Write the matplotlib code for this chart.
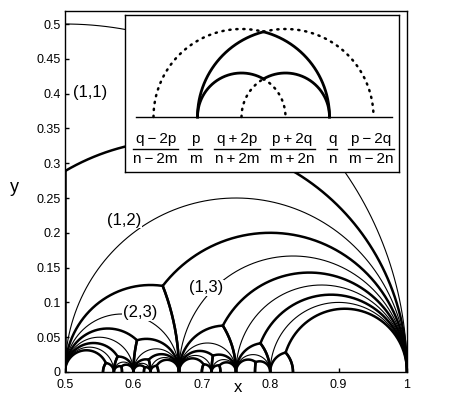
import numpy as np
import matplotlib
matplotlib.use("Agg")
import matplotlib.pyplot as plt

plt.rcParams['font.family'] = ['Liberation Sans', 'DejaVu Sans']

# Farey fractions (numerator, denominator) on [1/2, 1], one list per refinement level
level0 = [(1, 2), (1, 1)]
level1 = [(1, 2), (2, 3), (1, 1)]
level2 = [(1, 2), (3, 5), (2, 3), (3, 4), (1, 1)]
level3 = [(1, 2), (4, 7), (3, 5), (5, 8), (2, 3), (5, 7), (3, 4), (4, 5), (1, 1)]
level4 = [(1, 2), (5, 9), (4, 7), (7, 12), (3, 5), (8, 13), (5, 8), (7, 11), (2, 3),
          (7, 10), (5, 7), (8, 11), (3, 4), (7, 9), (4, 5), (5, 6), (1, 1)]
outer_pair = [(0, 1), (1, 1)]

region_labels = ["(1,1)", "(1,2)", "(2,3)", "(1,3)"]
label_x = [0.537, 0.586, 0.610, 0.706]
label_y = [0.401, 0.218, 0.085, 0.121]

# inset: schematic with feet of the arcs
inset_feet = [-2.5, -1.5, -0.5, 0.5, 1.5, 2.5]
inset_numer = ["q\u2009\u2212\u20092p", "p", "q\u2009+\u20092p", "p\u2009+\u20092q", "q", "p\u2009\u2212\u20092q"]
inset_denom = ["n\u2009\u2212\u20092m", "m", "n\u2009+\u20092m", "m\u2009+\u20092n", "n", "m\u2009\u2212\u20092n"]
inset_label_x = [-2.45, -1.56, -0.6, 0.66, 1.56, 2.44]

THICK = 1.8
THIN = 0.8


def frac(p, m):
    return np.inf if m == 0 else p / m


def circ_y(a, b, x):
    c = (a + b) / 2
    r = abs(b - a) / 2
    return np.sqrt(max(r * r - (x - c) ** 2, 0.0))


def arc(ax, a, b, x0, x1, **kw):
    c = (a + b) / 2
    r = abs(b - a) / 2
    t0 = np.arccos(np.clip((x0 - c) / r, -1, 1))
    t1 = np.arccos(np.clip((x1 - c) / r, -1, 1))
    t = np.linspace(t0, t1, 300)
    ax.plot(c + r * np.cos(t), r * np.sin(t), **kw)


def cusp_x(a1, b1, a2, b2):
    c1, r1 = (a1 + b1) / 2, abs(b1 - a1) / 2
    c2, r2 = (a2 + b2) / 2, abs(b2 - a2) / 2
    return (r1 ** 2 - r2 ** 2 + c2 ** 2 - c1 ** 2) / (2 * (c2 - c1))


def draw_region(ax, p, m, q, n):
    left, right = p / m, q / n
    a_start = frac(q - 2 * p, n - 2 * m)
    b_end = frac(p - 2 * q, m - 2 * n)
    if np.isinf(b_end):
        xc = left
        ax.plot([xc, xc], [0, circ_y(a_start, right, xc)], color='k', lw=THICK)
        arc(ax, a_start, right, xc, right, color='k', lw=THICK)
    elif np.isinf(a_start):
        xc = right
        arc(ax, left, b_end, left, xc, color='k', lw=THICK)
        ax.plot([xc, xc], [0, circ_y(left, b_end, xc)], color='k', lw=THICK)
    else:
        xc = cusp_x(a_start, right, left, b_end)
        arc(ax, left, b_end, left, xc, color='k', lw=THICK)
        arc(ax, a_start, right, xc, right, color='k', lw=THICK)


fig = plt.figure(figsize=(4.71, 3.98), dpi=100)
ax = fig.add_axes([65 / 471, 26 / 398, 342 / 471, 361 / 398])

levels = [level0, level1, level2, level3, level4]
# thin geodesics between Farey neighbours
(p0, m0), (q0, n0) = outer_pair
arc(ax, p0 / m0, q0 / n0, p0 / m0, q0 / n0, color='k', lw=THIN)
for lev in levels[:-1]:
    for (p, m), (q, n) in zip(lev[:-1], lev[1:]):
        arc(ax, p / m, q / n, p / m, q / n, color='k', lw=THIN)
# thick region boundaries
for lev in levels:
    for (p, m), (q, n) in zip(lev[:-1], lev[1:]):
        draw_region(ax, p, m, q, n)

for s, x, y in zip(region_labels, label_x, label_y):
    ax.text(x, y, s, fontsize=12, ha='center', va='center',
            bbox=dict(facecolor='white', edgecolor='none', pad=0.5), zorder=5)

ax.set_xlim(0.5, 1)
ax.set_ylim(0, 0.5187)
xt = [0.5, 0.6, 0.7, 0.8, 0.9, 1.0]
yt = [0, 0.05, 0.1, 0.15, 0.2, 0.25, 0.3, 0.35, 0.4, 0.45, 0.5]
ax.set_xticks(xt)
ax.set_xticklabels(['%g' % v for v in xt])
ax.set_yticks(yt)
ax.set_yticklabels(['%g' % v for v in yt])
ax.tick_params(direction='in', length=3, width=1, labelsize=9)
ax.tick_params(axis='x', pad=5)
ax.tick_params(axis='y', pad=3)
for sp in ax.spines.values():
    sp.set_linewidth(1.0)
fig.text(238 / 471, 1 - 388 / 398, "x", fontsize=12, ha='center', va='center')
fig.text(14 / 471, 1 - 187 / 398, "y", fontsize=13, ha='center', va='center')

# inset schematic
ins = fig.add_axes([125 / 471, (398 - 172) / 398, 274 / 471, 157 / 398], zorder=10)
ins.set_xlim((125 - 263.5) / 44, (399 - 263.5) / 44)
ins.set_ylim(-(172 - 117) / 44, (117 - 15) / 44)
ins.set_xticks([])
ins.set_yticks([])
for sp in ins.spines.values():
    sp.set_linewidth(1.0)

f = inset_feet
dot = dict(color='k', lw=1.8, linestyle=(0, (0.5, 2.3)), dash_capstyle='round')
sol = dict(color='k', lw=2.0)
# big arcs meeting at the top cusp
arc(ins, f[0], f[4], f[0], 0.0, **dot)
arc(ins, f[0], f[4], 0.0, f[4], **sol)
arc(ins, f[1], f[5], f[1], 0.0, **sol)
arc(ins, f[1], f[5], 0.0, f[5], **dot)
# small arcs meeting at the lower cusp
arc(ins, f[1], f[3], f[1], 0.0, **sol)
arc(ins, f[1], f[3], 0.0, f[3], **dot)
arc(ins, f[2], f[4], f[2], 0.0, **dot)
arc(ins, f[2], f[4], 0.0, f[4], **sol)
ins.plot([-2.9, 2.92], [0, 0], color='k', lw=1.0)

num_y, bar_y, den_y = -0.59, -0.72, -1.05
texts = []
for x, nu, de in zip(inset_label_x, inset_numer, inset_denom):
    t1 = ins.text(x, num_y, nu, fontsize=11, ha='center', va='baseline')
    t2 = ins.text(x, den_y, de, fontsize=11, ha='center', va='baseline')
    texts.append((x, t1, t2))
fig.canvas.draw()
r = fig.canvas.get_renderer()
inv = ins.transData.inverted()
for x, t1, t2 in texts:
    w = max(t1.get_window_extent(r).width, t2.get_window_extent(r).width) + 1
    xp = ins.transData.transform((x, 0))[0]
    x0 = inv.transform((xp - w / 2, 0))[0]
    x1 = inv.transform((xp + w / 2, 0))[0]
    ins.plot([x0, x1], [bar_y, bar_y], color='k', lw=1.0)

fig.savefig("out.png", dpi=100)
